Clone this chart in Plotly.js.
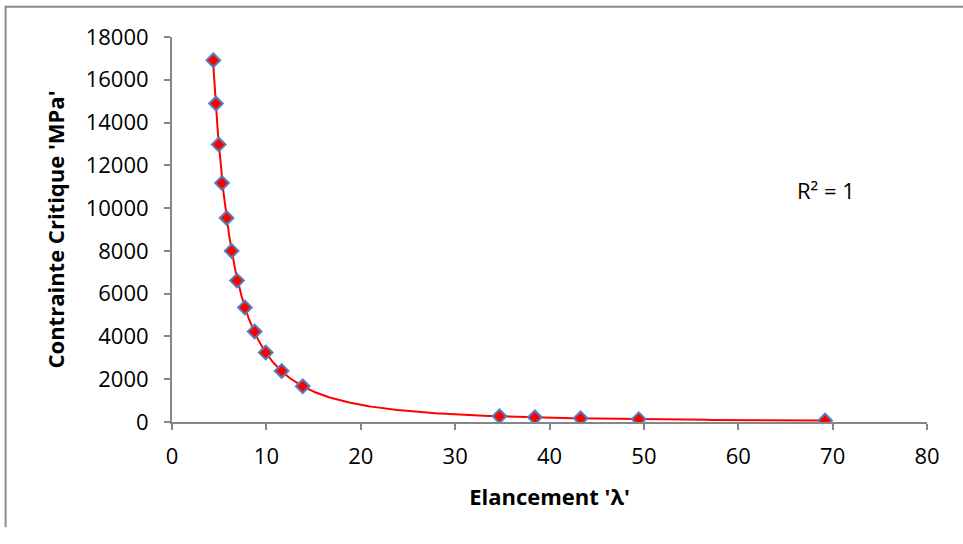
<!DOCTYPE html>
<html>
<head>
<meta charset="utf-8">
<script src="https://cdn.plot.ly/plotly-3.0.1.min.js"></script>
<style>html,body{margin:0;padding:0;background:#fff;}#chart{width:963px;height:544px;}</style>
</head>
<body>
<div id="chart"></div>
<script>
// Data
const elancement = [4.38, 4.66, 4.95, 5.30, 5.79, 6.32, 6.89, 7.73, 8.76, 9.93, 11.62, 13.85, 34.7, 38.45, 43.3, 49.46, 69.2];
const contrainte = [16910, 14890, 12970, 11170, 9540, 8000, 6610, 5350, 4230, 3245, 2385, 1670, 268, 217, 171, 131, 67];
const xTicks = [0, 10, 20, 30, 40, 50, 60, 70, 80];
const yTicks = [0, 2000, 4000, 6000, 8000, 10000, 12000, 14000, 16000, 18000];
const xTitle = "Elancement 'λ'";
const yTitle = "Contrainte Critique 'MPa'";
const r2Label = "R² = 1";

// Power trendline (least squares in log-log space), as the spreadsheet does
const lx = elancement.map(Math.log), ly = contrainte.map(Math.log);
const n = lx.length;
const mx = lx.reduce((a, b) => a + b, 0) / n, my = ly.reduce((a, b) => a + b, 0) / n;
let sxy = 0, sxx = 0;
for (let i = 0; i < n; i++) { sxy += (lx[i] - mx) * (ly[i] - my); sxx += (lx[i] - mx) ** 2; }
const b = sxy / sxx, a = Math.exp(my - b * mx);
const xmin = Math.min(...elancement), xmax = Math.max(...elancement);
const trendX = [], trendY = [];
for (let i = 0; i <= 400; i++) {
  const x = xmin * Math.pow(xmax / xmin, i / 400);
  trendX.push(x); trendY.push(a * Math.pow(x, b));
}

const font = "Open Sans, Liberation Sans, sans-serif";
const traces = [
  { x: trendX, y: trendY, mode: 'lines', line: { color: '#FF0000', width: 2 }, hoverinfo: 'skip', showlegend: false },
  { x: elancement, y: contrainte, mode: 'markers', showlegend: false,
    marker: { symbol: 'diamond', size: 10.5, color: '#FF0000', line: { color: '#4F81BD', width: 2 } } }
];

const L = 172, R = 35.5, T = 36.7, B = 122.3;
const pw = 963 - L - R, ph = 544 - T - B;
const fx = px => (px - L) / pw, fy = py => (544 - B - py) / ph;

const layout = {
  width: 963, height: 544,
  margin: { l: L, r: R, t: T, b: B, pad: 0 },
  paper_bgcolor: '#fff', plot_bgcolor: '#fff',
  font: { family: font, size: 22, color: '#000' },
  xaxis: {
    range: [0, 80], tickvals: xTicks, ticktext: xTicks.map(String),
    showgrid: false, zeroline: false, showline: true, linecolor: '#868686', linewidth: 2,
    ticks: 'outside', ticklen: 6, tickwidth: 2, tickcolor: '#868686', ticklabelstandoff: 8,
    tickfont: { family: font, size: 22, color: '#000' },
    title: { text: xTitle, font: { family: font, size: 22, color: '#000', weight: 'bold' }, standoff: 20 },
    automargin: false
  },
  yaxis: {
    range: [0, 18000], tickvals: yTicks, ticktext: yTicks.map(String),
    showgrid: false, zeroline: false, showline: true, linecolor: '#868686', linewidth: 2,
    ticks: 'outside', ticklen: 6, tickwidth: 2, tickcolor: '#868686', ticklabelstandoff: 11,
    tickfont: { family: font, size: 22, color: '#000' },
    title: { text: yTitle, font: { family: font, size: 22, color: '#000', weight: 'bold' }, standoff: 15 },
    automargin: false
  },
  annotations: [
    { xref: 'paper', yref: 'paper', x: fx(826), y: fy(190), text: r2Label, showarrow: false,
      font: { family: font, size: 22, color: '#000' }, xanchor: 'center', yanchor: 'middle' }
  ],
  shapes: [
    { type: 'path', xref: 'paper', yref: 'paper', path: `M ${fx(5.5)} ${fy(527)} L ${fx(5.5)} ${fy(6.5)} L ${fx(975)} ${fy(6.5)}`,
      line: { color: '#8c8c8c', width: 2 } }
  ]
};

Plotly.newPlot('chart', traces, layout, { displayModeBar: false, staticPlot: true });
</script>
</body>
</html>
